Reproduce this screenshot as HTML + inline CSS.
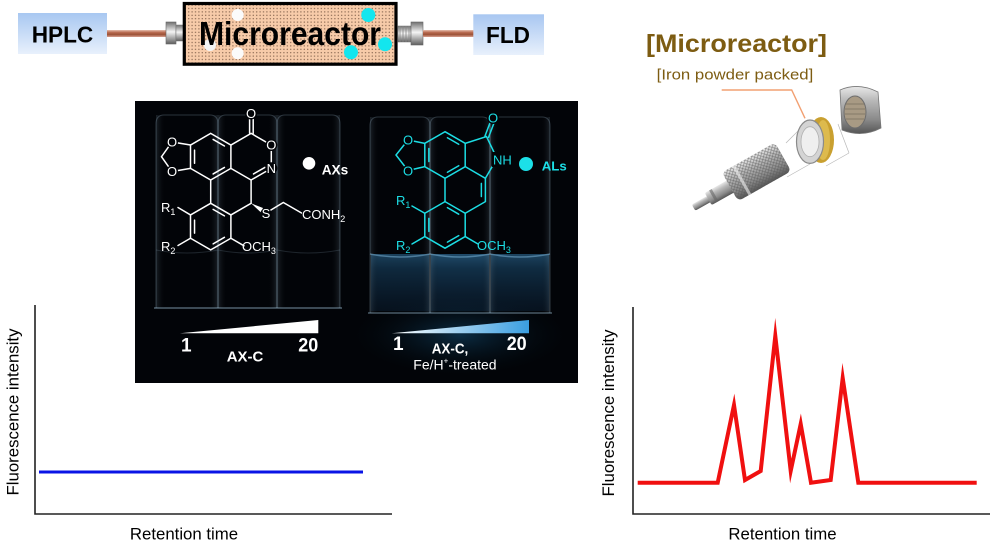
<!DOCTYPE html>
<html>
<head>
<meta charset="utf-8">
<style>
  html,body{margin:0;padding:0;background:#fff;}
  svg{display:block;}
  text{font-family:"Liberation Sans",Arial,sans-serif;}
</style>
</head>
<body>
<svg width="992" height="541" viewBox="0 0 992 541" xmlns="http://www.w3.org/2000/svg">
<defs>
  <linearGradient id="boxg" x1="0" y1="0" x2="0" y2="1">
    <stop offset="0" stop-color="#a8c7f1"/><stop offset="1" stop-color="#e8f0fc"/>
  </linearGradient>
  <linearGradient id="cable" x1="0" y1="0" x2="0" y2="1">
    <stop offset="0" stop-color="#e6beae"/><stop offset="0.35" stop-color="#b86a50"/>
    <stop offset="0.65" stop-color="#9c5136"/><stop offset="1" stop-color="#d8a090"/>
  </linearGradient>
  <linearGradient id="metal" x1="0" y1="0" x2="0" y2="1">
    <stop offset="0" stop-color="#707070"/><stop offset="0.45" stop-color="#f4f4f4"/><stop offset="1" stop-color="#5e5e5e"/>
  </linearGradient>
  <linearGradient id="metal2" x1="0" y1="0" x2="0" y2="1">
    <stop offset="0" stop-color="#e8e8e8"/><stop offset="0.3" stop-color="#b8b8b8"/>
    <stop offset="0.7" stop-color="#8a8a8a"/><stop offset="1" stop-color="#555"/>
  </linearGradient>
  <pattern id="dots" width="3.4" height="3.4" patternUnits="userSpaceOnUse">
    <rect width="3.4" height="3.4" fill="#f7cba9"/><circle cx="1.7" cy="1.7" r="0.65" fill="#7a5a45"/>
  </pattern>
  <pattern id="knurl" width="4" height="4" patternUnits="userSpaceOnUse">
    <path d="M0,0 L4,4 M4,0 L0,4" stroke="#555" stroke-width="0.6" opacity="0.7"/>
  </pattern>
  <linearGradient id="tri2" x1="0" y1="0" x2="1" y2="0">
    <stop offset="0" stop-color="#ffffff"/><stop offset="1" stop-color="#3a9ee0"/>
  </linearGradient>
  <linearGradient id="glow" x1="0" y1="0" x2="0" y2="1">
    <stop offset="0" stop-color="#3f93cc" stop-opacity="0.5"/>
    <stop offset="0.25" stop-color="#2a78b0" stop-opacity="0.38"/>
    <stop offset="1" stop-color="#1a4a78" stop-opacity="0.22"/>
  </linearGradient>
  <radialGradient id="haze" cx="0.5" cy="0.5" r="0.5">
    <stop offset="0" stop-color="#0e3a58" stop-opacity="0.75"/>
    <stop offset="1" stop-color="#000" stop-opacity="0"/>
  </radialGradient>
  <linearGradient id="tubeL" x1="0" y1="0" x2="1" y2="0">
    <stop offset="0" stop-color="#9bb8cc" stop-opacity="0.16"/>
    <stop offset="0.15" stop-color="#000" stop-opacity="0"/>
    <stop offset="0.85" stop-color="#000" stop-opacity="0"/>
    <stop offset="1" stop-color="#9bb8cc" stop-opacity="0.16"/>
  </linearGradient>
</defs>

<rect width="992" height="541" fill="#fff"/>

<!-- ===== Top banner ===== -->
<rect x="18" y="13" width="89" height="41" fill="url(#boxg)"/>
<text x="31.7" y="42.5" font-size="23" font-weight="bold" fill="#000" textLength="61.6" lengthAdjust="spacingAndGlyphs">HPLC</text>

<rect x="107" y="30" width="60" height="7" fill="url(#cable)"/>
<rect x="166" y="22" width="10" height="22" fill="url(#metal)" stroke="#666" stroke-width="0.6"/>
<rect x="176" y="25" width="8" height="16" fill="url(#metal)" stroke="#777" stroke-width="0.5"/>

<rect x="184.3" y="3.5" width="211.7" height="60.7" fill="url(#dots)" stroke="#000" stroke-width="3.2"/>
<circle cx="237.7" cy="15" r="6" fill="#fbfbfb"/>
<circle cx="210" cy="45" r="6" fill="#f4f4f4"/>
<circle cx="237.7" cy="53.3" r="6" fill="#fbfbfb"/>
<text x="199" y="45" font-size="33" font-weight="bold" fill="#000" textLength="182" lengthAdjust="spacingAndGlyphs">Microreactor</text>
<circle cx="368.3" cy="15" r="7" fill="#13e6ee"/>
<circle cx="385" cy="44.3" r="7" fill="#13e6ee"/>
<circle cx="351" cy="52.3" r="7" fill="#13e6ee"/>

<rect x="398" y="26" width="13" height="16" fill="url(#metal)" stroke="#777" stroke-width="0.5"/>
<path d="M400,26 V42 M403,26 V42 M406,26 V42 M409,26 V42" stroke="#888" stroke-width="0.8"/>
<rect x="411" y="22" width="12" height="23" fill="url(#metal)" stroke="#666" stroke-width="0.6"/>
<rect x="423" y="30" width="51" height="7" fill="url(#cable)"/>
<rect x="473.3" y="14.3" width="70.7" height="40.7" fill="url(#boxg)"/>
<text x="486" y="43" font-size="23" font-weight="bold" fill="#000" textLength="44" lengthAdjust="spacingAndGlyphs">FLD</text>

<!-- ===== Right top: microreactor device ===== -->
<text x="646" y="52" font-size="25" font-weight="bold" fill="#7d5c12" textLength="181" lengthAdjust="spacingAndGlyphs">[Microreactor]</text>
<text x="656.7" y="79.5" font-size="15" fill="#7d5c12" textLength="156.6" lengthAdjust="spacingAndGlyphs">[Iron powder packed]</text>
<path d="M721.7,90 H791.7 L805,118.3" fill="none" stroke="#f2a072" stroke-width="1.4"/>

<path d="M786,143 L803,126 M787,177 L810,164 M826,166 L849,153 M849,153 L838,124" fill="none" stroke="#b8b8b8" stroke-width="0.7"/>

<g transform="rotate(-29.4 756.7 171.7)">
  <rect x="684" y="168.5" width="20" height="7" rx="2" fill="url(#metal2)"/>
  <rect x="701" y="164.7" width="27" height="14" rx="2" fill="url(#metal2)"/>
  <rect x="706" y="164.7" width="3" height="14" fill="#666" opacity="0.6"/>
  <rect x="726" y="155.2" width="61" height="33" rx="5" fill="url(#metal2)"/>
  <rect x="726" y="155.2" width="61" height="33" rx="5" fill="url(#knurl)"/>
  <rect x="738" y="155.2" width="3" height="33" fill="#eee" opacity="0.6"/>
</g>
<ellipse cx="821" cy="140" rx="13" ry="23" fill="#c9a030"/>
<ellipse cx="823" cy="140" rx="7" ry="20" fill="#e6c45a" opacity="0.7"/>
<ellipse cx="810" cy="141.7" rx="13.5" ry="21.7" fill="#d4d4d4" stroke="#8a8a8a" stroke-width="1.2"/>
<ellipse cx="810" cy="141.7" rx="9" ry="15" fill="#efefef" stroke="#b0b0b0" stroke-width="0.8"/>
<path d="M840,90 Q858,82 878,92 L881,128 Q862,138 842,130 Z" fill="url(#metal2)" stroke="#777" stroke-width="0.8"/>
<ellipse cx="855" cy="112" rx="11" ry="16" fill="#a89a84" stroke="#6d6d6d" stroke-width="1"/>
<path d="M846,104 H864 M845,109 H865 M845,114 H865 M846,119 H864" stroke="#7a7060" stroke-width="0.8"/>

<!-- ===== Dark photo ===== -->
<rect x="135" y="101" width="443" height="282" fill="#020408"/>
<ellipse cx="460" cy="335" rx="120" ry="45" fill="url(#haze)"/>

<!-- left tubes -->
<g fill="none" stroke="#8aa6b8" stroke-opacity="0.3" stroke-width="1.1">
  <path d="M156,308 V124 Q156,115 164,115 H210 Q218,115 218,124 V308"/>
  <path d="M218,308 V124 Q218,115 226,115 H269 Q277,115 277,124 V308"/>
  <path d="M277,308 V124 Q277,115 285,115 H332 Q340,115 340,124 V308"/>
  <path d="M156,250 Q187,256 218,250 Q248,256 277,250 Q308,256 340,250" stroke-opacity="0.2"/>
</g>
<path d="M154,308 H342" stroke="#8fb0c4" stroke-opacity="0.55" stroke-width="1.5"/>
<rect x="156" y="115" width="62" height="193" fill="url(#tubeL)"/>
<rect x="218" y="115" width="59" height="193" fill="url(#tubeL)"/>
<rect x="277" y="115" width="63" height="193" fill="url(#tubeL)"/>

<!-- right tubes with blue glow -->
<rect x="371" y="254" width="58" height="57" fill="url(#glow)" opacity="0.85"/>
<rect x="431" y="254" width="58" height="57" fill="url(#glow)"/>
<rect x="491" y="254" width="58" height="57" fill="url(#glow)" opacity="0.9"/>
<g fill="none" stroke="#8aa6b8" stroke-opacity="0.3" stroke-width="1.1">
  <path d="M370,313 V126 Q370,117 378,117 H422 Q430,117 430,126 V313"/>
  <path d="M430,313 V126 Q430,117 438,117 H482 Q490,117 490,126 V313"/>
  <path d="M490,313 V126 Q490,117 498,117 H542 Q550,117 550,126 V313"/>
</g>
<path d="M370,254 Q400,260 430,254 Q460,260 490,254 Q520,260 550,254" fill="none" stroke="#8cc8ee" stroke-opacity="0.45" stroke-width="1.5"/>
<path d="M368,313 H552" stroke="#8fb0c4" stroke-opacity="0.5" stroke-width="1.5"/>
<rect x="370" y="117" width="60" height="196" fill="url(#tubeL)"/>
<rect x="430" y="117" width="60" height="196" fill="url(#tubeL)"/>
<rect x="490" y="117" width="60" height="196" fill="url(#tubeL)"/>

<!-- ===== Left structure (AXs) ===== -->
<g stroke="#fff" stroke-width="1.5" fill="none" stroke-linecap="round">
  <path d="M210.7,133.4 L230.9,145.05 L230.9,168.35 L210.7,180 L190.5,168.35 L190.5,145.05 Z"/>
  <path d="M213.12,139.46 L224.44,145.98 M224.44,167.42 L213.12,173.94 M194.54,163.22 L194.54,150.18"/>
  <path d="M230.9,168.35 L251.1,180 L251.1,203.3 L230.9,214.95 L210.7,203.3 L210.7,180"/>
  <path d="M230.9,214.95 L230.9,238.25 L210.7,249.9 L190.5,238.25 L190.5,214.95 L210.7,203.3"/>
  <path d="M213.12,209.36 L224.44,215.88 M224.44,237.32 L213.12,243.84 M194.54,233.12 L194.54,220.08"/>
  <path d="M230.9,145.05 L251.1,133.4 L271.3,145.05 L271.3,168.35 L251.1,180"/>
  <path d="M264.84,167.42 L253.52,173.94"/>
  <path d="M249.6,133.4 V117 M253.2,133.4 V117"/>
  <path d="M190.5,145.05 L172,142 L161.5,156.7 L172,171.5 L190.5,168.35"/>
  <path d="M190.5,214.95 L178,207.5 M190.5,238.25 L178,245.5 M230.9,238.25 L244,245.8"/>
  <path d="M266,213 L283.3,202.5 L301.5,213"/>
</g>
<path d="M251.1,203.3 L263,208 L261,212.5 Z" fill="#fff"/>
<g fill="#020408">
  <circle cx="251.1" cy="113.5" r="6"/>
  <circle cx="271.3" cy="145" r="6"/>
  <circle cx="271.3" cy="168.3" r="6"/>
  <circle cx="172" cy="142" r="6"/>
  <circle cx="172" cy="171.5" r="6"/>
  <circle cx="266" cy="213.5" r="5.5"/>
</g>
<g fill="#fff" font-size="13">
  <text x="251.1" y="118.2" text-anchor="middle">O</text>
  <text x="271.3" y="149.7" text-anchor="middle">O</text>
  <text x="271.3" y="173" text-anchor="middle">N</text>
  <text x="172" y="146.7" text-anchor="middle">O</text>
  <text x="172" y="176.2" text-anchor="middle">O</text>
  <text x="266" y="218.2" text-anchor="middle">S</text>
  <text x="302" y="219">CONH<tspan font-size="9" dy="3">2</tspan></text>
  <text x="161" y="212">R<tspan font-size="9" dy="3">1</tspan></text>
  <text x="161" y="251">R<tspan font-size="9" dy="3">2</tspan></text>
  <text x="242" y="251">OCH<tspan font-size="9" dy="3">3</tspan></text>
</g>
<circle cx="309" cy="163.3" r="6.3" fill="#fff"/>
<text x="321.7" y="174.5" font-size="13.7" font-weight="bold" fill="#fff" textLength="26.6" lengthAdjust="spacingAndGlyphs">AXs</text>

<!-- ===== Right structure (ALs) ===== -->
<g stroke="#1cdde4" stroke-width="1.5" fill="none" stroke-linecap="round">
  <path d="M445,131.7 L465.2,143.35 L465.2,166.65 L445,178.3 L424.8,166.65 L424.8,143.35 Z"/>
  <path d="M447.42,137.76 L458.74,144.28 M458.74,165.72 L447.42,172.24 M428.84,161.52 L428.84,148.48"/>
  <path d="M465.2,166.65 L485.4,178.3 L485.4,201.6 L465.2,213.25 L445,201.6 L445,178.3"/>
  <path d="M481.36,183.43 L481.36,196.47"/>
  <path d="M465.2,213.25 L465.2,236.55 L445,248.2 L424.8,236.55 L424.8,213.25 L445,201.6"/>
  <path d="M447.42,207.66 L458.74,214.18 M458.74,235.62 L447.42,242.14 M428.84,231.42 L428.84,218.38"/>
  <path d="M465.2,143.35 L486.5,136.5 L497,158.5 L485.4,178.3"/>
  <path d="M485,136 L490.5,121.5 M488.5,137.5 L494,123"/>
  <path d="M424.8,143.35 L408,140 L396,155 L408,170.5 L424.8,166.65"/>
  <path d="M424.8,213.25 L412,206 M424.8,236.55 L412,244 M465.2,236.55 L478,244"/>
</g>
<g fill="#020408">
  <circle cx="493" cy="118" r="6"/>
  <rect x="492" y="152" width="22" height="15"/>
  <circle cx="408" cy="140" r="6"/>
  <circle cx="408" cy="171" r="6"/>
</g>
<g fill="#1cdde4" font-size="13">
  <text x="493" y="122.7" text-anchor="middle">O</text>
  <text x="493" y="164.5">NH</text>
  <text x="408" y="144.7" text-anchor="middle">O</text>
  <text x="408" y="175.7" text-anchor="middle">O</text>
  <text x="396" y="205">R<tspan font-size="9" dy="3">1</tspan></text>
  <text x="396" y="250">R<tspan font-size="9" dy="3">2</tspan></text>
  <text x="477" y="250">OCH<tspan font-size="9" dy="3">3</tspan></text>
</g>
<circle cx="526" cy="164" r="7" fill="#1ce0e8"/>
<text x="541.7" y="170.5" font-size="13.2" font-weight="bold" fill="#1ce0e8" textLength="25" lengthAdjust="spacingAndGlyphs">ALs</text>

<!-- wedges & labels in photo -->
<path d="M180,333.3 L318.3,320 L318.3,333.3 Z" fill="#fff"/>
<text x="181" y="351.7" font-size="19" font-weight="bold" fill="#fff">1</text>
<text x="298.3" y="351.7" font-size="19" font-weight="bold" fill="#fff" textLength="20" lengthAdjust="spacingAndGlyphs">20</text>
<text x="226.7" y="361.7" font-size="15" font-weight="bold" fill="#fff" textLength="36.6" lengthAdjust="spacingAndGlyphs">AX-C</text>

<path d="M391.7,333.3 L529,320 L529,333.3 Z" fill="url(#tri2)"/>
<text x="393" y="350" font-size="19" font-weight="bold" fill="#fff">1</text>
<text x="506.7" y="350" font-size="19" font-weight="bold" fill="#fff" textLength="20" lengthAdjust="spacingAndGlyphs">20</text>
<text x="431.7" y="353.3" font-size="15" font-weight="bold" fill="#fff" textLength="36.6" lengthAdjust="spacingAndGlyphs">AX-C,</text>
<text x="413.3" y="369.3" font-size="14" fill="#fff">Fe/H<tspan font-size="8" dy="-6">+</tspan><tspan dy="6">-treated</tspan></text>

<!-- ===== Left chart ===== -->
<path d="M35,305 V514 H392" fill="none" stroke="#222" stroke-width="1.6"/>
<line x1="39" y1="472" x2="363" y2="472" stroke="#0a14e6" stroke-width="3"/>
<text transform="translate(18.5,412) rotate(-90)" font-size="16.8" fill="#000" text-anchor="middle">Fluorescence intensity</text>
<text x="184" y="539.5" font-size="16.8" fill="#000" text-anchor="middle">Retention time</text>

<!-- ===== Right chart ===== -->
<path d="M633,307 V514 H990" fill="none" stroke="#222" stroke-width="1.6"/>
<polyline points="637.7,482.7 717.7,482.7 734,405 745,480 760.7,471 775.3,336 790.7,471 800.7,424 811,482.7 830.7,480 842.7,378 858.3,482.7 976.7,482.7" fill="none" stroke="#f01010" stroke-width="4" stroke-linejoin="miter" stroke-miterlimit="10"/>
<text transform="translate(614,413) rotate(-90)" font-size="16.8" fill="#000" text-anchor="middle">Fluorescence intensity</text>
<text x="782.5" y="539.5" font-size="16.8" fill="#000" text-anchor="middle">Retention time</text>
</svg>
</body>
</html>
